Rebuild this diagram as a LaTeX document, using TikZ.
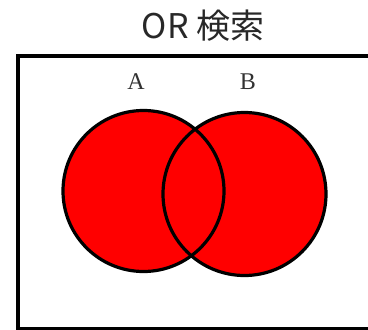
\documentclass[tikz,border=0pt]{standalone}
\usepackage{fontspec}
\setmainfont{Liberation Serif}
\newfontfamily\cjk{Noto Sans CJK JP}
\begin{document}
\begin{tikzpicture}[x=1pt,y=-1pt,
  setfill/.style={fill={rgb,255:red,255;green,0;blue,0}},
  setline/.style={draw=black,line width=3.2pt},
  lbl/.style={font=\fontsize{24}{24}\selectfont, text={rgb,255:red,50;green,50;blue,50}, inner sep=0pt}]
\useasboundingbox (0,0) rectangle (368,330);
\begin{scope}
\clip (0,0) rectangle (368,330);
\node[draw=black, line width=4pt, minimum width=360pt, minimum height=273pt, inner sep=0pt, anchor=north west] (frame) at (16,54) {};
\end{scope}
\node[font=\cjk\fontsize{34}{34}\selectfont, text={rgb,255:red,40;green,40;blue,40}] (title) at (203,26) {OR 検索};
\coordinate (ca) at (143.5,191);
\coordinate (cb) at (244.5,194);
\fill[setfill] (ca) circle (80.5);
\fill[setfill] (cb) circle (81.5);
\draw[setline] (ca) circle (80.5);
\draw[setline] (cb) circle (81.5);
\node[lbl] (la) at (136,82) {A};
\node[lbl] (lb) at (248,82) {B};
\end{tikzpicture}
\end{document}
